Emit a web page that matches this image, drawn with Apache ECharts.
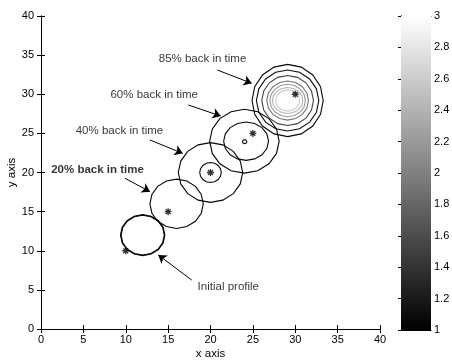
<!DOCTYPE html>
<html>
<head>
<meta charset="utf-8">
<script src="https://cdn.jsdelivr.net/npm/echarts@6/dist/echarts.min.js"></script>
<style>
  html, body { margin: 0; padding: 0; background: #fff; }
  #chart { width: 452px; height: 360px; }
</style>
</head>
<body>
<div id="chart"></div>
<script>
// Contour rings: centre, radii along x and y, and the level of each ring
const contourCx    = [12,   12,   16,   20,   20,   24,   24.2, 24.03, 29.1, 29.1, 29.1, 29.1, 29.1, 29.1, 29.1];
const contourCy    = [12,   12,   16,   20,   20,   24,   24.0, 23.94, 29.2, 29.2, 29.2, 29.2, 29.2, 29.2, 29.2];
const contourRx    = [2.55, 2.62, 3.15, 3.8,  1.27, 4.1,  2.65, 0.25,  4.2,  3.68, 3.05, 2.46, 2.1,  1.8,  1.42];
const contourRy    = [2.55, 2.62, 3.15, 3.82, 1.27, 4.08, 2.45, 0.25,  4.62, 3.9,  3.2,  2.5,  2.07, 1.66, 1.36];
const contourLevel = [1.02, 1.04, 1.03, 1.03, 1.06, 1.03, 1.06, 1.1,   1.05, 1.1,  1.5,  1.9,  2.2,  2.4,  2.6];

// Source locations marked with an asterisk
const starX = [10, 15, 20, 25, 30];
const starY = [10, 15, 20, 25, 30];

// Axis ranges and tick spacing
const xRange = [0, 40];
const yRange = [0, 40];
const axisStep = 5;
const levelRange = [1, 3];
const levelStep = 0.2;

// Callout texts with their anchor and arrow (tail -> head), in data units
const noteText  = ['85% back in time', '60% back in time', '40% back in time', '20% back in time', 'Initial profile'];
const noteX     = [19.06, 13.36, 9.26, 6.67, 22.1];
const noteY     = [34.47, 29.9, 25.3, 20.3, 5.33];
const arrowTail = [[20.8, 33.1], [17.38, 28.63], [12.86, 24.15], [9.91, 19.26], [17.78, 6.26]];
const arrowHead = [[24.86, 31.4], [21.2, 27.22], [16.72, 22.45], [12.86, 17.55], [13.84, 9.46]];
const boldNote = '20% back in time';

// Grey colormap: lowest level black, highest white
function grayOf(level) {
  const t = Math.max(0, Math.min(1, (level - levelRange[0]) / (levelRange[1] - levelRange[0])));
  const g = Math.round(t * 255);
  return 'rgb(' + g + ',' + g + ',' + g + ')';
}

const FONT = 'Liberation Sans, Arial, sans-serif';
const RING_VERTICES = 16;

const contourData = contourCx.map((cx, i) => [cx, contourCy[i], contourRx[i], contourRy[i], contourLevel[i]]);
const starData = starX.map((x, i) => [x, starY[i]]);
const noteData = noteText.map((t, i) => ({
  value: [noteX[i], noteY[i], t],
  label: { fontWeight: t === boldNote ? 'bold' : 'normal' }
}));
const arrowLines = arrowTail.map((a, i) => [{ coord: a }, { coord: arrowHead[i] }]);

const frameAxis = {
  axisLine: { show: true, lineStyle: { color: '#000', width: 1 } },
  splitLine: { show: false }
};

const chart = echarts.init(document.getElementById('chart'), null, { renderer: 'canvas' });

chart.setOption({
  animation: false,
  backgroundColor: '#fff',
  textStyle: { fontFamily: FONT },
  grid: [
    { left: 41, top: 16, width: 339, height: 313, outerBoundsMode: 'none', containLabel: false },
    { left: 401, top: 16, width: 30, height: 314, outerBoundsMode: 'none', containLabel: false }
  ],
  xAxis: [
    Object.assign({}, frameAxis, {
      gridIndex: 0, type: 'value', position: 'bottom',
      min: xRange[0], max: xRange[1], interval: axisStep,
      axisTick: { show: true, inside: true, length: 4, lineStyle: { color: '#000' } },
      axisLabel: { color: '#000', fontSize: 11, margin: 5, fontFamily: FONT },
      name: 'x axis', nameLocation: 'middle', nameGap: 19, nameMoveOverlap: false,
      nameTextStyle: { color: '#000', fontSize: 11.5, fontFamily: FONT }
    }),
    Object.assign({}, frameAxis, {
      gridIndex: 0, type: 'value', position: 'top',
      min: xRange[0], max: xRange[1], interval: axisStep,
      axisTick: { show: true, inside: true, length: 4, lineStyle: { color: '#000' } },
      axisLabel: { show: false }
    }),
    Object.assign({}, frameAxis, {
      gridIndex: 1, type: 'value', position: 'bottom', min: 0, max: 1,
      axisTick: { show: false }, axisLabel: { show: false }
    }),
    Object.assign({}, frameAxis, {
      gridIndex: 1, type: 'value', position: 'top', min: 0, max: 1,
      axisTick: { show: false }, axisLabel: { show: false }
    })
  ],
  yAxis: [
    Object.assign({}, frameAxis, {
      gridIndex: 0, type: 'value', position: 'left',
      min: yRange[0], max: yRange[1], interval: axisStep,
      axisTick: { show: true, inside: true, length: 4, lineStyle: { color: '#000' } },
      axisLabel: { color: '#000', fontSize: 11, margin: 7, fontFamily: FONT },
      name: 'y axis', nameLocation: 'middle', nameGap: 23, nameRotate: 90, nameMoveOverlap: false,
      nameTextStyle: { color: '#000', fontSize: 11.5, fontFamily: FONT }
    }),
    Object.assign({}, frameAxis, {
      gridIndex: 0, type: 'value', position: 'right',
      min: yRange[0], max: yRange[1], interval: axisStep,
      axisTick: { show: true, inside: true, length: 4, lineStyle: { color: '#000' } },
      axisLabel: { show: false }
    }),
    Object.assign({}, frameAxis, {
      gridIndex: 1, type: 'value', position: 'left',
      min: levelRange[0], max: levelRange[1], interval: levelStep,
      axisTick: { show: false }, axisLabel: { show: false }
    }),
    Object.assign({}, frameAxis, {
      gridIndex: 1, type: 'value', position: 'right',
      min: levelRange[0], max: levelRange[1], interval: levelStep,
      axisTick: { show: true, inside: true, length: 3, lineStyle: { color: '#000' } },
      axisLabel: { color: '#000', fontSize: 11, margin: 3, fontFamily: FONT }
    })
  ],
  series: [
    {
      // colour scale strip
      type: 'custom',
      xAxisIndex: 2, yAxisIndex: 3,
      silent: true,
      data: [[0, levelRange[0], 1, levelRange[1]]],
      renderItem: function (params, api) {
        const p0 = api.coord([api.value(0), api.value(1)]);
        const p1 = api.coord([api.value(2), api.value(3)]);
        return {
          type: 'rect',
          shape: { x: p0[0], y: p1[1], width: p1[0] - p0[0], height: p0[1] - p1[1] },
          style: {
            fill: new echarts.graphic.LinearGradient(0, 0, 0, 1, [
              { offset: 0, color: grayOf(levelRange[1]) },
              { offset: 1, color: grayOf(levelRange[0]) }
            ])
          }
        };
      }
    },
    {
      // contour rings
      type: 'custom',
      xAxisIndex: 0, yAxisIndex: 0,
      silent: true,
      data: contourData,
      encode: { x: 0, y: 1 },
      renderItem: function (params, api) {
        const cx = api.value(0), cy = api.value(1);
        const rx = api.value(2), ry = api.value(3);
        const pts = [];
        for (let k = 0; k < RING_VERTICES; k++) {
          const a = 2 * Math.PI * k / RING_VERTICES;
          pts.push(api.coord([cx + rx * Math.cos(a), cy + ry * Math.sin(a)]));
        }
        return {
          type: 'polygon',
          shape: { points: pts },
          style: { fill: null, stroke: grayOf(api.value(4)), lineWidth: 1.1 }
        };
      }
    },
    {
      // asterisk markers
      type: 'scatter',
      xAxisIndex: 0, yAxisIndex: 0,
      silent: true,
      data: starData,
      symbol: 'path://M5,0L5,10M0,5L10,5M1.5,1.5L8.5,8.5M1.5,8.5L8.5,1.5',
      symbolSize: 7,
      itemStyle: { color: 'rgba(0,0,0,0)', borderColor: '#000', borderWidth: 1.3 }
    },
    {
      // callout texts and arrows
      type: 'scatter',
      xAxisIndex: 0, yAxisIndex: 0,
      silent: true,
      symbolSize: 0,
      data: noteData,
      label: {
        show: true,
        position: 'inside',
        color: '#000',
        fontSize: 11.5,
        fontFamily: FONT,
        formatter: function (p) { return p.value[2]; }
      },
      markLine: {
        silent: true,
        symbol: ['none', 'arrow'],
        symbolSize: 8,
        label: { show: false },
        lineStyle: { color: '#000', width: 1, type: 'solid' },
        data: arrowLines
      }
    }
  ]
});
</script>
</body>
</html>
